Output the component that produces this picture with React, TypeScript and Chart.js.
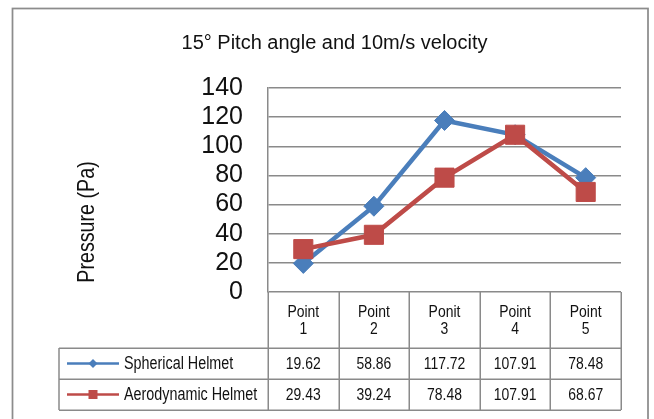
import React, { useEffect, useRef } from "react";
import { Chart, registerables } from "chart.js";

Chart.register(...registerables);

// ---- data ----
const categories: string[][] = [
  ["Point", "1"],
  ["Point", "2"],
  ["Ponit", "3"],
  ["Point", "4"],
  ["Point", "5"],
];
const seriesNames = ["Spherical Helmet", "Aerodynamic Helmet"];
const sphericalValues = [19.62, 58.86, 117.72, 107.91, 78.48];
const aerodynamicValues = [29.43, 39.24, 78.48, 107.91, 68.67];
const yMin = 0;
const yMax = 140;
const yStep = 20;
const chartTitle = "15° Pitch angle and 10m/s velocity";
const yAxisTitle = "Pressure (Pa)";

// ---- styles ----
const GRID = "#8a8a8a";
const BLUE = "#4A7EBB";
const RED = "#BE4B48";
const TEXT = "#111111";
const SANS = "'Liberation Sans', Arial, sans-serif";
const NARROW_X = 0.82;

function narrowText(
  ctx: CanvasRenderingContext2D,
  text: string,
  x: number,
  y: number,
  align: CanvasTextAlign,
  size: number
) {
  ctx.save();
  ctx.translate(x, y);
  ctx.scale(NARROW_X, 1);
  ctx.font = `${size}px ${SANS}`;
  ctx.textAlign = align;
  ctx.textBaseline = "middle";
  ctx.fillStyle = TEXT;
  ctx.fillText(text, 0, 0);
  ctx.restore();
}

const tablePlugin = {
  id: "dataTable",
  beforeDraw(chart: any) {
    const ctx = chart.ctx;
    ctx.save();
    ctx.fillStyle = "#ffffff";
    ctx.fillRect(0, 0, chart.width, chart.height);
    ctx.strokeStyle = "#8c8c8c";
    ctx.lineWidth = 1.75;
    ctx.strokeRect(12.5, 8.5, chart.width - 18.5, chart.height + 20);
    ctx.restore();
  },
  afterDraw(chart: any) {
    const ctx = chart.ctx;
    const { left, right, bottom } = chart.chartArea;
    const n = categories.length;
    const colW = (right - left) / n;
    const headerBottom = bottom + 56;
    const rowH = 31;
    const datasets = chart.data.datasets;
    const tableBottom = headerBottom + rowH * datasets.length;
    const legendLeft = 59;
    const xScale = chart.scales.x;

    ctx.save();
    ctx.strokeStyle = GRID;
    ctx.lineWidth = 1.5;
    ctx.beginPath();
    for (let i = 0; i <= n; i++) {
      const xe = Math.round(left + i * colW) + 0.25;
      ctx.moveTo(xe, bottom);
      ctx.lineTo(xe, tableBottom);
    }
    ctx.moveTo(legendLeft, headerBottom);
    ctx.lineTo(legendLeft, tableBottom);
    for (let r = 0; r <= datasets.length; r++) {
      const yy = Math.round(headerBottom + r * rowH) + 0.25;
      ctx.moveTo(legendLeft, yy);
      ctx.lineTo(right, yy);
    }
    ctx.stroke();

    // header (category labels)
    categories.forEach((lines, i) => {
      const cx = xScale.getPixelForValue(i);
      lines.forEach((t, k) => {
        narrowText(ctx, t, cx, bottom + 20 + k * 17, "center", 17);
      });
    });

    // values and legend keys
    datasets.forEach((ds: any, r: number) => {
      const cy = headerBottom + rowH * (r + 0.5) + 0.5;
      ds.data.forEach((v: number, i: number) => {
        narrowText(ctx, v.toFixed(2), xScale.getPixelForValue(i), cy, "center", 17);
      });
      // legend key
      ctx.strokeStyle = ds.borderColor;
      ctx.lineWidth = 2.5;
      ctx.beginPath();
      ctx.moveTo(67, cy - 0.5);
      ctx.lineTo(119, cy - 0.5);
      ctx.stroke();
      ctx.fillStyle = ds.borderColor;
      ctx.beginPath();
      if (ds.pointStyle === "rectRot") {
        const s = 4.5;
        ctx.moveTo(93, cy - 0.5 - s);
        ctx.lineTo(93 + s, cy - 0.5);
        ctx.lineTo(93, cy - 0.5 + s);
        ctx.lineTo(93 - s, cy - 0.5);
        ctx.closePath();
      } else {
        ctx.rect(93 - 4.5, cy - 0.5 - 4.5, 9, 9);
      }
      ctx.fill();
      narrowText(ctx, ds.label, 124, cy, "left", 17.5);
    });

    // y axis title
    ctx.save();
    ctx.translate(87, 222);
    ctx.rotate(-Math.PI / 2);
    narrowText(ctx, yAxisTitle, 0, 0, "center", 24);
    ctx.restore();

    ctx.restore();
  },
};

export default function App() {
  const ref = useRef<HTMLCanvasElement | null>(null);

  useEffect(() => {
    if (!ref.current) return;
    const chart = new Chart(ref.current, {
      type: "line",
      data: {
        labels: categories,
        datasets: [
          {
            label: seriesNames[0],
            data: sphericalValues,
            borderColor: BLUE,
            backgroundColor: BLUE,
            borderWidth: 4.5,
            pointStyle: "rectRot",
            pointRadius: 10,
            pointBorderWidth: 1,
            pointBackgroundColor: BLUE,
            pointBorderColor: BLUE,
            tension: 0,
            order: 1,
          },
          {
            label: seriesNames[1],
            data: aerodynamicValues,
            borderColor: RED,
            backgroundColor: RED,
            borderWidth: 4.5,
            pointStyle: "rect",
            pointRadius: 13.5,
            pointBorderWidth: 1,
            pointBackgroundColor: RED,
            pointBorderColor: RED,
            tension: 0,
            order: 0,
          },
        ],
      },
      options: {
        responsive: false,
        animation: false,
        devicePixelRatio: 1,
        layout: { padding: { left: 48, right: 33, top: 0, bottom: 0 } },
        plugins: {
          legend: { display: false },
          tooltip: { enabled: false },
          title: {
            display: true,
            text: chartTitle,
            color: TEXT,
            font: { family: SANS, size: 20, weight: "normal", lineHeight: 1.2 },
            padding: { top: 31, bottom: 33 },
          },
        },
        scales: {
          x: {
            type: "category",
            offset: true,
            grid: { display: false, drawTicks: false },
            border: { display: false },
            ticks: { display: false },
            afterFit: (scale: any) => {
              scale.height = 127;
            },
          },
          y: {
            min: yMin,
            max: yMax,
            ticks: {
              stepSize: yStep,
              autoSkip: false,
              padding: 25,
              color: TEXT,
              font: { family: SANS, size: 25, lineHeight: 1.0 },
            },
            grid: { color: GRID, lineWidth: 1.5, drawTicks: false },
            border: { display: true, color: GRID, width: 1.5 },
            afterFit: (scale: any) => {
              scale.width = 220;
            },
          },
        },
      },
      plugins: [tablePlugin],
    });
    return () => chart.destroy();
  }, []);

  return (
    <div style={{ position: "absolute", left: 0, top: 0, width: 654, height: 419, background: "#fff" }}>
      <canvas ref={ref} width={654} height={419} style={{ display: "block" }} />
    </div>
  );
}
